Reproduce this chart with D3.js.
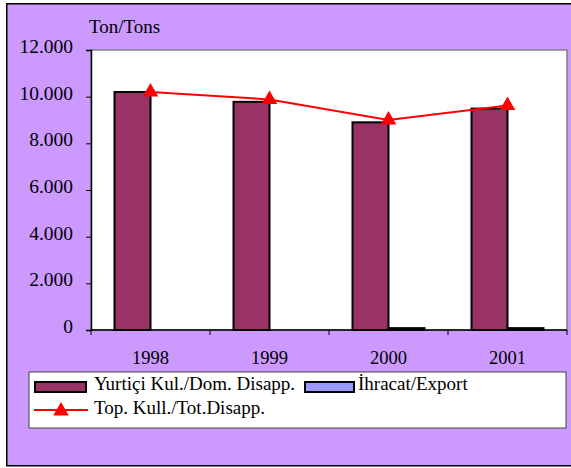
<!DOCTYPE html>
<html>
<head>
<meta charset="utf-8">
<script src="https://cdn.jsdelivr.net/npm/d3@7"></script>
<style>
body{margin:0;background:#fff;}
</style>
</head>
<body>
<svg></svg>
<script>
var width=571;
var height=468;

// data
var years=["1998","1999","2000","2001"];
var domestic=[10200,9780,8900,9490];
var exportVals=[0,0,80,80];
var total=[10200,9880,9000,9620];
var yTicks=[0,2000,4000,6000,8000,10000,12000];
var seriesNames=["Yurtiçi Kul./Dom. Disapp.","İhracat/Export","Top. Kull./Tot.Disapp."];

var serif="'Liberation Serif'";
var pLeft=91, pRight=567, pTop=50, pBottom=330;

var svg=d3.select("svg")
	.attr("width",width)
	.attr("height",height);

function label(sel,size){
	return sel.style("font-family",serif).style("font-size",(size||19)+"px").attr("fill","#000");
}

// background frame
svg.append("rect")
	.attr("x",6.75).attr("y",3.75)
	.attr("width",580).attr("height",462)
	.attr("fill","#CC99FF")
	.attr("stroke","#000")
	.attr("stroke-width",1.5);

// plot area
svg.append("rect")
	.attr("x",pLeft).attr("y",pTop)
	.attr("width",pRight-pLeft).attr("height",pBottom-pTop)
	.attr("fill","#fff")
	.attr("stroke","#808080")
	.attr("stroke-width",1.5);

var x0=d3.scaleBand()
	.domain(years)
	.range([pLeft,pRight]);

var x1=d3.scaleBand()
	.domain(["dom","exp"])
	.range([0,x0.bandwidth()])
	.paddingOuter(0.653);

var y=d3.scaleLinear()
	.domain([0,12000])
	.range([pBottom,pTop]);

var fmt=d3.formatLocale({decimal:",",thousands:".",grouping:[3],currency:["",""]}).format(",");

// bars
var rows=years.map((d,i)=>({year:d,dom:domestic[i],exp:exportVals[i],tot:total[i]}));

svg.append("g")
	.selectAll("rect")
	.data(rows)
	.enter()
	.append("rect")
	.attr("x",d=>x0(d.year)+x1("dom"))
	.attr("y",d=>y(d.dom))
	.attr("width",x1.bandwidth())
	.attr("height",d=>y(0)-y(d.dom))
	.attr("fill","#993366")
	.attr("stroke","#000")
	.attr("stroke-width",2);

svg.append("g")
	.selectAll("rect")
	.data(rows.filter(d=>d.exp>0))
	.enter()
	.append("rect")
	.attr("x",d=>x0(d.year)+x1("exp"))
	.attr("y",d=>y(d.exp))
	.attr("width",x1.bandwidth())
	.attr("height",d=>y(0)-y(d.exp))
	.attr("fill","#9999FF")
	.attr("stroke","#000")
	.attr("stroke-width",2);

// y axis
var yaxis=d3.axisLeft(y)
	.tickValues(yTicks)
	.tickFormat(fmt)
	.tickSize(5)
	.tickPadding(13);

var gy=svg.append("g")
	.attr("transform","translate("+pLeft+",0)")
	.call(yaxis);
gy.select(".domain").attr("stroke","#000").attr("stroke-width",1.5);
label(gy.selectAll("text"),19.5).attr("dy","0.12em");

// x axis: ticks on band edges, labels in band centres
svg.append("line")
	.attr("x1",pLeft).attr("x2",pRight)
	.attr("y1",pBottom).attr("y2",pBottom)
	.attr("stroke","#000").attr("stroke-width",1.5);

svg.append("g")
	.selectAll("line")
	.data(years.map(d=>x0(d)).concat([x0.range()[1]]))
	.enter()
	.append("line")
	.attr("x1",d=>d).attr("x2",d=>d)
	.attr("y1",pBottom).attr("y2",pBottom+5)
	.attr("stroke","#000");

label(svg.append("g")
	.selectAll("text")
	.data(years)
	.enter()
	.append("text")
	.attr("x",d=>x0(d)+x0.bandwidth()/2)
	.attr("y",364)
	.attr("text-anchor","middle"),18.5)
	.text(d=>d);

label(svg.append("text")
	.attr("x",89)
	.attr("y",33))
	.text("Ton/Tons");

// total line
var line=d3.line()
	.x(d=>x0(d.year)+x0.bandwidth()/2)
	.y(d=>y(d.tot));

svg.append("path")
	.datum(rows)
	.attr("d",line)
	.attr("fill","none")
	.attr("stroke","#FF0000")
	.attr("stroke-width",2);

var tri=d3.symbol().type(d3.symbolTriangle).size(105);

svg.append("g")
	.selectAll("path")
	.data(rows)
	.enter()
	.append("path")
	.attr("d",tri)
	.attr("transform",d=>"translate("+(x0(d.year)+x0.bandwidth()/2)+","+y(d.tot)+")")
	.attr("fill","#FF0000");

// legend
var lg=svg.append("g");
lg.append("rect")
	.attr("x",29).attr("y",372)
	.attr("width",537).attr("height",56)
	.attr("fill","#fff")
	.attr("stroke","#404040")
	.attr("stroke-width",1);

lg.append("rect")
	.attr("x",35).attr("y",382)
	.attr("width",51).attr("height",10)
	.attr("fill","#993366")
	.attr("stroke","#000").attr("stroke-width",2);
label(lg.append("text")
	.attr("x",94).attr("y",390))
	.text(seriesNames[0]);

lg.append("rect")
	.attr("x",305).attr("y",382)
	.attr("width",49).attr("height",10)
	.attr("fill","#9999FF")
	.attr("stroke","#000").attr("stroke-width",2);
label(lg.append("text")
	.attr("x",358).attr("y",390))
	.text(seriesNames[1]);

lg.append("line")
	.attr("x1",34).attr("x2",88)
	.attr("y1",410).attr("y2",410)
	.attr("stroke","#FF0000").attr("stroke-width",2);
lg.append("path")
	.attr("d",tri)
	.attr("transform","translate(61,411)")
	.attr("fill","#FF0000");
label(lg.append("text")
	.attr("x",94).attr("y",414))
	.text(seriesNames[2]);
</script>
</body>
</html>
